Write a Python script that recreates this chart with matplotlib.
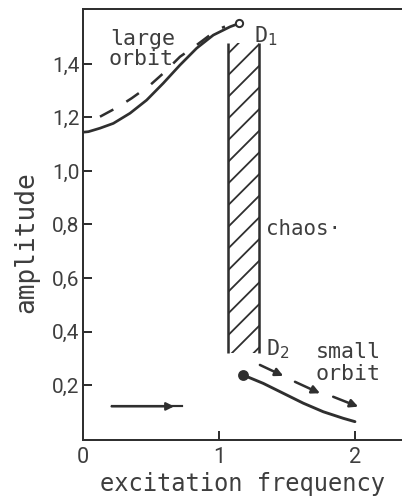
import numpy as np
import matplotlib
matplotlib.use("Agg")
import matplotlib.pyplot as plt

# ---------------- data ----------------
large_solid_x = [0.0, 0.04, 0.125, 0.223, 0.346, 0.468, 0.59, 0.713, 0.836, 0.958, 1.081, 1.149]
large_solid_y = [1.145, 1.147, 1.160, 1.178, 1.216, 1.265, 1.328, 1.396, 1.459, 1.508, 1.539, 1.552]

large_dash_x = [0.125, 0.26, 0.358, 0.493, 0.59, 0.713, 0.836, 0.983, 1.044]
large_dash_y = [1.203, 1.240, 1.272, 1.321, 1.365, 1.427, 1.471, 1.527, 1.540]

small_solid_x = [1.179, 1.326, 1.473, 1.62, 1.767, 1.914, 2.0]
small_solid_y = [0.237, 0.206, 0.169, 0.132, 0.100, 0.0755, 0.063]

# dashed arrow segments of the small orbit (start -> end)
small_arrow_x0 = [1.301, 1.559, 1.84]
small_arrow_y0 = [0.275, 0.212, 0.156]
small_arrow_x1 = [1.473, 1.743, 2.024]
small_arrow_y1 = [0.234, 0.169, 0.119]

# horizontal arrow at the bottom left
low_arrow_x = [0.21, 0.73]
low_arrow_y = [0.12, 0.12]
low_arrow_head_x = 0.67

# chaotic band
chaos_x = [1.066, 1.294]
chaos_y = [0.32, 1.48]

yticks = [0.2, 0.4, 0.6, 0.8, 1.0, 1.2, 1.4]
ytick_labels = ["0,2", "0,4", "0,6", "0,8", "1,0", "1,2", "1,4"]
xticks = [0, 1, 2]
xtick_labels = ["0", "1", "2"]

# ---------------- style ----------------
DPI = 130
LINE = "#2f2f2f"
TEXT = "#3e3e3e"
MONO = ["DejaVu Sans Mono"]
NARROW = ["Roboto", "DejaVu Sans"]
plt.rcParams["hatch.linewidth"] = 1.0
plt.rcParams["hatch.color"] = LINE

fig = plt.figure(figsize=(402 / DPI, 502 / DPI), dpi=DPI)
ax = fig.add_axes([83 / 402, 62 / 502, 319 / 402, 431 / 502])
ax.set_xlim(0, 2.346)
ax.set_ylim(-0.0056, 1.6056)

for s in ["left", "bottom", "top"]:
    ax.spines[s].set_color(LINE)
    ax.spines[s].set_linewidth(1.1)
ax.spines["right"].set_visible(False)

ax.set_yticks(yticks)
ax.set_yticklabels(ytick_labels, family=NARROW, fontsize=11.5, color=TEXT)
ax.set_xticks(xticks)
ax.set_xticklabels(xtick_labels, family=NARROW, fontsize=12, color=TEXT)
ax.tick_params(axis="y", direction="in", length=5, width=1.1, color=LINE, pad=2)
ax.tick_params(axis="x", direction="in", length=5, width=1.1, color=LINE, pad=4)

# large orbit
ax.plot(large_solid_x, large_solid_y, color=LINE, lw=1.5, solid_capstyle="round",
        solid_joinstyle="round")
ax.plot(large_solid_x[-1:], large_solid_y[-1:], "o", ms=4, mfc="white",
        mec=LINE, mew=1.1)
ax.plot(large_dash_x, large_dash_y, color=LINE, lw=1.4, ls=(0, (6, 6)))

# chaos band
ax.fill_betweenx(chaos_y, chaos_x[0], chaos_x[1], facecolor="none",
                 edgecolor=LINE, hatch="//", linewidth=0)
ax.vlines(chaos_x, chaos_y[0], chaos_y[1], color=LINE, lw=1.4)

# small orbit
ax.plot(small_solid_x, small_solid_y, color=LINE, lw=1.6, solid_capstyle="round",
        solid_joinstyle="round")
ax.plot(small_solid_x[:1], small_solid_y[:1], "o", ms=5, color=LINE)
for x0, y0, x1, y1 in zip(small_arrow_x0, small_arrow_y0, small_arrow_x1, small_arrow_y1):
    ax.annotate("", xy=(x1, y1), xytext=(x0, y0),
                arrowprops=dict(arrowstyle="-|>", lw=1.4, color=LINE,
                                mutation_scale=9, shrinkA=0, shrinkB=0))

ax.plot(low_arrow_x, low_arrow_y, color=LINE, lw=1.2)
ax.annotate("", xy=(low_arrow_head_x, low_arrow_y[0]), xytext=(low_arrow_x[0], low_arrow_y[0]),
            arrowprops=dict(arrowstyle="-|>", lw=1.2, color=LINE,
                            mutation_scale=9, shrinkA=0, shrinkB=0))

# annotations
ax.text(0.20, 1.471, "large", family=MONO, fontsize=12, color=TEXT, va="baseline")
ax.text(0.19, 1.396, "orbit", family=MONO, fontsize=12, color=TEXT, va="baseline")
ax.text(1.257, 1.482, "D$_1$", family=MONO, fontsize=12, color=TEXT, va="baseline")
ax.text(1.346, 0.761, "chaos·", family=MONO, fontsize=11.5, color=TEXT, va="baseline")
ax.text(1.345, 0.312, "D$_2$", family=MONO, fontsize=12, color=TEXT, va="baseline")
ax.text(1.71, 0.30, "small", family=MONO, fontsize=12, color=TEXT, va="baseline")
ax.text(1.71, 0.219, "orbit", family=MONO, fontsize=12, color=TEXT, va="baseline")

ax.set_xlabel("excitation frequency", family=MONO, fontsize=13.2, color=TEXT,
              va="baseline")
ax.xaxis.set_label_coords(0.5, -0.118)
ax.set_ylabel("amplitude", family=MONO, fontsize=14.5, color=TEXT, va="center")
ax.yaxis.set_label_coords(-0.178, 0.459)

fig.savefig("out.png", dpi=DPI, facecolor="white")
